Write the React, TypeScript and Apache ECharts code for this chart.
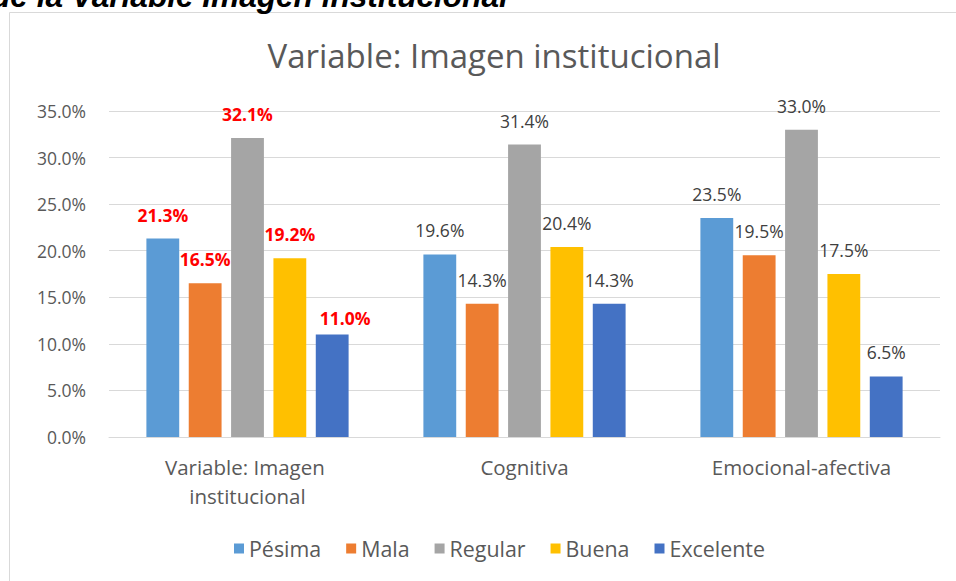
import React, { useEffect, useRef } from "react";
import * as echarts from "echarts";

const categories = ["Variable: Imagen institucional", "Cognitiva", "Emocional-afectiva"];
const seriesNames = ["Pésima", "Mala", "Regular", "Buena", "Excelente"];
const pesima = [21.3, 19.6, 23.5];
const mala = [16.5, 14.3, 19.5];
const regular = [32.1, 31.4, 33.0];
const buena = [19.2, 20.4, 17.5];
const excelente = [11.0, 14.3, 6.5];
const seriesValues = [pesima, mala, regular, buena, excelente];
const colors = ["#5B9BD5", "#ED7D31", "#A5A5A5", "#FFC000", "#4472C4"];
const yMin = 0;
const yMax = 35;
const yInterval = 5;

const chartTitle = "Variable: Imagen institucional";
const pageHeading = "de la Variable Imagen institucional";

const FONT = '"Open Sans", sans-serif';

export default function App() {
  const ref = useRef<HTMLDivElement>(null);

  useEffect(() => {
    if (!ref.current) return;
    const chart = echarts.init(ref.current, undefined, { renderer: "svg" });

    const series = seriesValues.map((vals, si) => ({
      name: seriesNames[si],
      type: "bar",
      barGap: "29%",
      barCategoryGap: "27%",
      itemStyle: { color: colors[si] },
      label: {
        show: true,
        position: "top",
        distance: 15,
        fontFamily: FONT,
        fontSize: 17.5,
        color: "#404040",
        formatter: (p: any) => Number(p.value).toFixed(1) + "%",
      },
      data: vals.map((v, i) => {
        if (i === 0) {
          const lab: any = { color: "#FF0000", fontWeight: "bold" };
          if (si === 4) lab.offset = [13, 7];
          return { value: v, label: lab };
        }
        return v;
      }),
    }));

    chart.setOption({
      animation: false,
      backgroundColor: "#ffffff",
      title: {
        text: chartTitle,
        left: 489,
        top: 34,
        textAlign: "center",
        textStyle: { fontFamily: FONT, fontSize: 33, fontWeight: "normal", color: "#595959" },
      },
      graphic: [
        {
          type: "rect",
          z: -1,
          shape: { x: 9.5, y: 12.5, width: 1000, height: 700 },
          style: { fill: "#ffffff", stroke: "#D9D9D9", lineWidth: 1 },
        },
        {
          type: "text",
          x: -9,
          y: 11.5,
          style: {
            text: pageHeading,
            font: 'italic bold 31.6px "Liberation Sans", Arial, sans-serif',
            fill: "#000000",
            textVerticalAlign: "bottom",
          },
        },
      ],
      legend: {
        left: 229,
        top: 533,
        itemWidth: 10,
        itemHeight: 10,
        itemGap: 25,
        icon: "rect",
        textStyle: { fontFamily: FONT, fontSize: 21.4, color: "#595959" },
        data: seriesNames,
      },
      grid: { left: 109, right: 16, top: 111, bottom: 144, containLabel: false },
      xAxis: {
        type: "category",
        data: categories,
        axisLine: { lineStyle: { color: "#D9D9D9", width: 1 } },
        axisTick: { show: false },
        axisLabel: {
          interval: 0,
          margin: 15,
          fontFamily: FONT,
          fontSize: 20.5,
          lineHeight: 29,
          color: "#595959",
          width: 220,
          overflow: "break",
        },
      },
      yAxis: {
        type: "value",
        min: yMin,
        max: yMax,
        interval: yInterval,
        axisLine: { show: false },
        axisTick: { show: false },
        splitLine: { lineStyle: { color: "#D9D9D9", width: 1 } },
        axisLabel: {
          margin: 23,
          fontFamily: FONT,
          fontSize: 17.5,
          color: "#595959",
          formatter: (v: number) => v.toFixed(1) + "%",
        },
      },
      series,
    });

    return () => chart.dispose();
  }, []);

  return (
    <div
      ref={ref}
      style={{ position: "fixed", left: 0, top: 0, width: 956, height: 581 }}
    />
  );
}
